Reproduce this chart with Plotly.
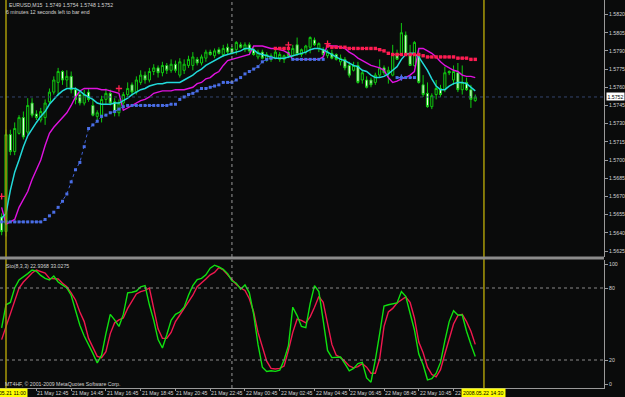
import plotly.graph_objects as go

# ---------------- data (M15 bars, bar 0 = 2008.05.21 11:00) ----------------
bar_index = list(range(-1, 109))

open_ = [1.5653, 1.5641, 1.5721, 1.5707, 1.5722, 1.5735, 1.5723, 1.5747, 1.5738, 1.5733,
         1.5735, 1.5748, 1.5756, 1.5764, 1.5773, 1.5766, 1.5769, 1.5758, 1.5754, 1.5747,
         1.5756, 1.5745, 1.5736, 1.5737, 1.5750, 1.5755, 1.5748, 1.5739, 1.5747, 1.5754,
         1.5762, 1.5756, 1.5764, 1.5770, 1.5766, 1.5773, 1.5776, 1.5772, 1.5778, 1.5774,
         1.5779, 1.5770, 1.5774, 1.5778, 1.5778, 1.5783, 1.5780, 1.5784, 1.5789, 1.5786,
         1.5791, 1.5787, 1.5793, 1.5792, 1.5791, 1.5795, 1.5791, 1.5795, 1.5791, 1.5785,
         1.5789, 1.5783, 1.5783, 1.5784, 1.5783, 1.5783, 1.5789, 1.5786, 1.5795, 1.5787,
         1.5789, 1.5793, 1.5799, 1.5792, 1.5791, 1.5786, 1.5788, 1.5787, 1.5781, 1.5783,
         1.5778, 1.5774, 1.5778, 1.5766, 1.5766, 1.5766, 1.5764, 1.5770, 1.5776, 1.5772,
         1.5770, 1.5788, 1.5787, 1.5803, 1.5788, 1.5778, 1.5787, 1.5762, 1.5755, 1.5744,
         1.5754, 1.5759, 1.5758, 1.5773, 1.5766, 1.5772, 1.5758, 1.5764, 1.5758, 1.5749]
high_ = [1.5656, 1.5725, 1.5725, 1.5731, 1.5737, 1.5740, 1.5751, 1.5751, 1.5741, 1.5743,
         1.5750, 1.5759, 1.5769, 1.5776, 1.5774, 1.5774, 1.5773, 1.5760, 1.5756, 1.5758,
         1.5759, 1.5750, 1.5741, 1.5753, 1.5759, 1.5758, 1.5751, 1.5750, 1.5756, 1.5764,
         1.5764, 1.5769, 1.5774, 1.5773, 1.5776, 1.5779, 1.5778, 1.5781, 1.5780, 1.5783,
         1.5782, 1.5784, 1.5783, 1.5786, 1.5789, 1.5785, 1.5787, 1.5791, 1.5791, 1.5792,
         1.5793, 1.5795, 1.5796, 1.5794, 1.5798, 1.5797, 1.5797, 1.5797, 1.5793, 1.5791,
         1.5791, 1.5789, 1.5788, 1.5792, 1.5789, 1.5787, 1.5791, 1.5795, 1.5801, 1.5792,
         1.5795, 1.5802, 1.5801, 1.5797, 1.5793, 1.5791, 1.5791, 1.5788, 1.5787, 1.5785,
         1.5781, 1.5781, 1.5781, 1.5774, 1.5769, 1.5768, 1.5772, 1.5783, 1.5778, 1.5777,
         1.5795, 1.5791, 1.5813, 1.5806, 1.5795, 1.5798, 1.5791, 1.5770, 1.5764, 1.5755,
         1.5766, 1.5762, 1.5777, 1.5774, 1.5778, 1.5780, 1.5778, 1.5768, 1.5762, 1.5754]
low_ = [1.5638, 1.5637, 1.5704, 1.5704, 1.5721, 1.5717, 1.5721, 1.5735, 1.5733, 1.5731,
        1.5729, 1.5746, 1.5754, 1.5753, 1.5762, 1.5760, 1.5755, 1.5746, 1.5745, 1.5745,
        1.5748, 1.5736, 1.5731, 1.5731, 1.5746, 1.5745, 1.5736, 1.5736, 1.5745, 1.5752,
        1.5753, 1.5754, 1.5762, 1.5763, 1.5764, 1.5770, 1.5768, 1.5769, 1.5771, 1.5772,
        1.5772, 1.5768, 1.5771, 1.5776, 1.5774, 1.5778, 1.5778, 1.5781, 1.5786, 1.5784,
        1.5787, 1.5785, 1.5787, 1.5787, 1.5787, 1.5792, 1.5789, 1.5788, 1.5786, 1.5783,
        1.5783, 1.5781, 1.5781, 1.5783, 1.5781, 1.5780, 1.5784, 1.5785, 1.5786, 1.5785,
        1.5787, 1.5788, 1.5794, 1.5789, 1.5786, 1.5784, 1.5783, 1.5782, 1.5778, 1.5774,
        1.5768, 1.5773, 1.5763, 1.5763, 1.5759, 1.5760, 1.5762, 1.5768, 1.5770, 1.5763,
        1.5769, 1.5783, 1.5786, 1.5786, 1.5778, 1.5777, 1.5763, 1.5752, 1.5743, 1.5742,
        1.5750, 1.5752, 1.5756, 1.5770, 1.5762, 1.5756, 1.5754, 1.5757, 1.5743, 1.5748]
close_ = [1.5641, 1.5721, 1.5707, 1.5726, 1.5735, 1.5719, 1.5745, 1.5737, 1.5735, 1.5740,
          1.5747, 1.5756, 1.5766, 1.5773, 1.5766, 1.5769, 1.5758, 1.5750, 1.5747, 1.5754,
          1.5750, 1.5737, 1.5739, 1.5750, 1.5755, 1.5747, 1.5739, 1.5747, 1.5754, 1.5759,
          1.5756, 1.5766, 1.5770, 1.5766, 1.5773, 1.5776, 1.5772, 1.5778, 1.5774, 1.5779,
          1.5774, 1.5781, 1.5779, 1.5783, 1.5785, 1.5780, 1.5785, 1.5789, 1.5787, 1.5790,
          1.5788, 1.5792, 1.5789, 1.5788, 1.5797, 1.5793, 1.5795, 1.5790, 1.5787, 1.5789,
          1.5784, 1.5787, 1.5786, 1.5789, 1.5787, 1.5786, 1.5786, 1.5792, 1.5787, 1.5791,
          1.5794, 1.5801, 1.5795, 1.5796, 1.5787, 1.5789, 1.5784, 1.5783, 1.5784, 1.5776,
          1.5770, 1.5778, 1.5764, 1.5772, 1.5760, 1.5762, 1.5770, 1.5776, 1.5772, 1.5774,
          1.5788, 1.5783, 1.5805, 1.5787, 1.5778, 1.5797, 1.5764, 1.5754, 1.5744, 1.5753,
          1.5759, 1.5754, 1.5772, 1.5772, 1.5773, 1.5758, 1.5764, 1.5758, 1.5750, 1.5752]

ma_fast = [1.5652, 1.5656, 1.5675, 1.5690, 1.5700, 1.5711, 1.5720, 1.5726, 1.5731, 1.5736,
           1.5740, 1.5746, 1.5750, 1.5754, 1.5757, 1.5759, 1.5759, 1.5759, 1.5757, 1.5754,
           1.5752, 1.5750, 1.5747, 1.5746, 1.5746, 1.5746, 1.5747, 1.5747, 1.5749, 1.5751,
           1.5754, 1.5756, 1.5758, 1.5759, 1.5761, 1.5762, 1.5763, 1.5763, 1.5764, 1.5764,
           1.5764, 1.5764, 1.5766, 1.5768, 1.5770, 1.5773, 1.5775, 1.5778, 1.5780, 1.5782,
           1.5784, 1.5786, 1.5787, 1.5788, 1.5789, 1.5790, 1.5792, 1.5792, 1.5791, 1.5788,
           1.5787, 1.5786, 1.5785, 1.5784, 1.5784, 1.5784, 1.5785, 1.5786, 1.5787, 1.5788,
           1.5789, 1.5791, 1.5792, 1.5792, 1.5791, 1.5789, 1.5787, 1.5785, 1.5783, 1.5782,
           1.5780, 1.5778, 1.5777, 1.5774, 1.5773, 1.5770, 1.5768, 1.5768, 1.5769, 1.5771,
           1.5774, 1.5777, 1.5783, 1.5787, 1.5788, 1.5788, 1.5785, 1.5780, 1.5774, 1.5767,
           1.5761, 1.5758, 1.5758, 1.5761, 1.5763, 1.5764, 1.5764, 1.5763, 1.5760, 1.5757]
ma_slow = [1.5661, 1.5647, 1.5649, 1.5651, 1.5661, 1.5668, 1.5674, 1.5684, 1.5692, 1.5700,
           1.5712, 1.5722, 1.5727, 1.5731, 1.5735, 1.5739, 1.5745, 1.5752, 1.5757, 1.5759,
           1.5759, 1.5759, 1.5759, 1.5758, 1.5758, 1.5757, 1.5756, 1.5755, 1.5741, 1.5743,
           1.5745, 1.5747, 1.5749, 1.5750, 1.5752, 1.5755, 1.5756, 1.5757, 1.5757, 1.5757,
           1.5758, 1.5758, 1.5758, 1.5759, 1.5760, 1.5763, 1.5764, 1.5767, 1.5768, 1.5771,
           1.5773, 1.5778, 1.5782, 1.5783, 1.5784, 1.5785, 1.5786, 1.5787, 1.5794, 1.5794,
           1.5794, 1.5793, 1.5792, 1.5792, 1.5791, 1.5790, 1.5788, 1.5783, 1.5783, 1.5783,
           1.5783, 1.5783, 1.5783, 1.5783, 1.5785, 1.5795, 1.5794, 1.5794, 1.5793, 1.5792,
           1.5789, 1.5787, 1.5784, 1.5782, 1.5780, 1.5778, 1.5777, 1.5776, 1.5774, 1.5768,
           1.5764, 1.5765, 1.5767, 1.5768, 1.5770, 1.5773, 1.5792, 1.5792, 1.5790, 1.5788,
           1.5785, 1.5781, 1.5778, 1.5776, 1.5774, 1.5773, 1.5770, 1.5769, 1.5769, 1.5768]

N = None
support_dots = ([1.5649] * 10 +
                [1.5651, 1.5654, 1.5657, 1.5661, 1.5666, 1.5672, 1.5682, 1.5692, 1.5698, 1.5711,
                 1.5726, 1.5729, 1.5732, 1.5736, 1.5737, 1.5739, 1.5740, 1.5742, 1.5744] +
                [1.5745] * 10 +
                [1.5746, 1.5746, 1.5750, 1.5752, 1.5754, 1.5755, 1.5757, 1.5759, 1.5759, 1.5760,
                 1.5761, 1.5762, 1.5764, 1.5764, 1.5764, 1.5766, 1.5768, 1.5771, 1.5773, 1.5775,
                 1.5777, 1.5781, 1.5783, 1.5784] +
                [N] * 4 + [1.5783] * 8 + [N] * 16 + [1.5768] * 5 + [N] * 14)
resist_dots = ([N] * 63 + [1.5792] * 4 + [N] * 8 +
               [1.5794, 1.5793, 1.5793, 1.5793, 1.5793, 1.5792, 1.5792, 1.5792, 1.5792, 1.5792,
                1.5792, 1.5792, 1.5791, 1.5790, 1.5788, 1.5787, 1.5787, 1.5787, 1.5787, 1.5787,
                1.5787, 1.5787, 1.5786, 1.5785, 1.5785, 1.5785, 1.5785, 1.5785, 1.5785, 1.5785,
                1.5784, 1.5784, 1.5784, 1.5783, 1.5783])

signal_bars = [-1, 26, 65, 74, 91]
signal_prices = [1.5670, 1.5759, 1.5795, 1.5796, 1.5768]
signal_kinds = ["sell", "sell", "sell", "sell", "buy"]

stoch_k = [46.7, 66, 68, 80, 86.7, 89, 92, 95, 94, 90.5, 88, 86.7, 90, 85, 82.5, 80, 74, 62, 49, 40,
           33, 25.5, 17.5, 24, 42, 58, 53.5, 48, 58, 76, 76.5, 77.5, 81, 82, 66, 53, 37, 30, 41, 53,
           58, 60, 64, 74, 82, 87, 88, 91, 96.5, 99, 97.5, 95.5, 92, 86, 84, 79, 82.5, 76, 58, 33,
           14, 10.5, 11, 10.5, 11.5, 20, 32, 64, 57, 48, 47, 67, 82, 77, 53, 28, 22, 22, 22.5, 17,
           11, 13, 17, 18, 5, 1.5, 20, 42, 65, 66, 67, 67.5, 77, 73, 59, 45, 25, 16, 3.5, 4.5,
           9, 18, 36, 52, 61, 57.5, 57.5, 44, 33, 22.9368]
stoch_d = [37, 48, 59, 70, 80, 85, 89, 92.5, 95, 93.5, 92.5, 88, 87.5, 87.5, 84, 81, 76, 70, 60, 52,
           38, 30, 23, 22, 27, 42, 51, 53.5, 55, 63, 69, 75, 77, 78, 80, 64, 46, 38, 38, 43,
           52, 57.5, 63, 67.5, 74, 81, 84, 87.5, 91, 93, 97, 95, 91, 87, 83, 80, 78, 71, 60, 43,
           30, 19, 13, 12.5, 13, 15, 28, 43, 54, 53, 51, 56, 64, 73, 68, 51, 33, 24, 22, 19,
           15, 13.5, 14.5, 17, 14, 9, 9, 21, 48, 60, 63, 67.5, 70, 72.5, 68, 55, 35, 26, 14, 8,
           6, 12, 25, 38, 50, 57, 58, 52, 44, 33.0275]

price_ticks = [1.5625, 1.5640, 1.5655, 1.5670, 1.5685, 1.5700, 1.5715, 1.5730,
               1.5745, 1.5760, 1.5775, 1.5790, 1.5805, 1.5820]
stoch_ticks = [0, 20, 80, 100]
stoch_levels = [20, 80]
time_tick_bars = [7, 15, 23, 31, 39, 47, 55, 63, 71, 79, 87, 95, 103]
time_tick_labels = ["21 May 12:45", "21 May 14:45", "21 May 16:45", "21 May 18:45",
                    "21 May 20:45", "21 May 22:45", "22 May 00:45", "22 May 02:45",
                    "22 May 04:45", "22 May 06:45", "22 May 08:45", "22 May 10:45",
                    "22 May 12:45"]
day_separator_bar = 52
vline_bars = [0, 110]
vline_labels = ["2008.05.21 11:00", "2008.05.22 14:30"]
header_text = "EURUSD,M15  1.5749 1.5754 1.5748 1.5752"
timer_text = "6 minutes 12 seconds left to bar end"
stoch_text = "Sto(8,3,3) 22.9368 33.0275"
copyright_text = "MT4HF, © 2001-2009 MetaQuotes Software Corp."

for arr in (open_, high_, low_, close_, ma_fast, ma_slow, support_dots, resist_dots, stoch_k, stoch_d):
    assert len(arr) == len(bar_index), len(arr)

# ---------------- geometry / style ----------------
W, H = 625, 397
PX_PER_BAR = 4.345
X0_PX = 6.0
AXIS_PX = 604
BG = "#0a0b0b"
AX = "#9a9a9a"
TXT = "#d4d4d4"
FONT = "Liberation Sans, Arial, sans-serif"
FS = 5.2


def py(p):
    return 1 - p / H


x_lo = -X0_PX / PX_PER_BAR
x_hi = x_lo + AXIS_PX / PX_PER_BAR

# main price scale: 1.5820 at y=14.5px, 1.5625 at y=251px
ppx = (1.5820 - 1.5625) / (251 - 14.5)
main_top_px, main_bot_px = 0, 257
y_hi = 1.5820 + (14.5 - main_top_px) * ppx
y_lo = 1.5820 - (main_bot_px - 14.5) * ppx
# stochastic: 100 at 264px, 0 at 384px
sub_top_px, sub_bot_px = 260, 388
s_hi = (384 - sub_top_px) / 1.2
s_lo = (384 - sub_bot_px) / 1.2

fig = go.Figure()

fig.add_trace(go.Candlestick(
    x=bar_index, open=open_, high=high_, low=low_, close=close_,
    increasing=dict(line=dict(color="#10c810", width=1), fillcolor=BG),
    decreasing=dict(line=dict(color="#10c810", width=1), fillcolor="#eefee8"),
    whiskerwidth=0, xaxis="x", yaxis="y", hoverinfo="skip"))

fig.add_trace(go.Scatter(x=bar_index, y=ma_slow, mode="lines",
                         line=dict(color="#e012e0", width=1.4), xaxis="x", yaxis="y"))
fig.add_trace(go.Scatter(x=bar_index, y=ma_fast, mode="lines",
                         line=dict(color="#22dada", width=1.5), xaxis="x", yaxis="y"))
fig.add_trace(go.Scatter(x=bar_index, y=support_dots, mode="lines+markers",
                         line=dict(color="#3f62d8", width=1, dash="dot"),
                         marker=dict(symbol="square", size=3, color="#4a6ee6"),
                         connectgaps=False, xaxis="x", yaxis="y"))
fig.add_trace(go.Scatter(x=bar_index, y=resist_dots, mode="lines+markers",
                         line=dict(color="#f01850", width=1, dash="dot"),
                         marker=dict(symbol="square", size=3.4, color="#ff1c52"),
                         connectgaps=False, xaxis="x", yaxis="y"))
fig.add_trace(go.Scatter(x=signal_bars, y=signal_prices, mode="markers",
                         marker=dict(symbol="cross-thin", size=4.5,
                                     line=dict(width=1.3,
                                               color=["#ff2050" if k == "sell" else "#4a6ee6"
                                                      for k in signal_kinds])),
                         xaxis="x", yaxis="y"))

fig.add_trace(go.Scatter(x=bar_index, y=stoch_d, mode="lines",
                         line=dict(color="#f0184e", width=1.4), xaxis="x", yaxis="y2"))
fig.add_trace(go.Scatter(x=bar_index, y=stoch_k, mode="lines",
                         line=dict(color="#10e010", width=1.4), xaxis="x", yaxis="y2"))

shapes = []
# bid line
shapes.append(dict(type="line", xref="paper", x0=0, x1=AXIS_PX / W, yref="y",
                   y0=close_[-1], y1=close_[-1], line=dict(color="#33456e", width=1, dash="dot")))
# day separator
shapes.append(dict(type="line", xref="x", x0=day_separator_bar, x1=day_separator_bar,
                   yref="paper", y0=py(main_bot_px), y1=1,
                   line=dict(color="#9a9a9a", width=1, dash="dot")))
shapes.append(dict(type="line", xref="x", x0=day_separator_bar, x1=day_separator_bar,
                   yref="paper", y0=py(sub_bot_px), y1=py(sub_top_px),
                   line=dict(color="#9a9a9a", width=1, dash="dot")))
# stochastic levels
for lv in stoch_levels:
    shapes.append(dict(type="line", xref="paper", x0=0, x1=AXIS_PX / W, yref="y2",
                       y0=lv, y1=lv, line=dict(color="#8a8a8a", width=1, dash="dot")))
# yellow vertical lines
for vb in vline_bars:
    shapes.append(dict(type="line", xref="x", x0=vb, x1=vb, yref="paper",
                       y0=py(sub_bot_px), y1=1, line=dict(color="#a89a08", width=1.5)))
# window separator
shapes.append(dict(type="rect", xref="paper", x0=0, x1=AXIS_PX / W, yref="paper",
                   y0=py(259.5), y1=py(256.5), fillcolor="#8c8c8c", line=dict(width=0)))

ann = []
small = dict(size=FS, color=TXT, family=FONT)
for b, t in zip(time_tick_bars, time_tick_labels):
    ann.append(dict(x=b, xref="x", y=py(392.6), yref="paper", text=t, showarrow=False,
                    xanchor="left", yanchor="middle", xshift=-1, font=small))
for b, t in zip(vline_bars, vline_labels):
    ann.append(dict(x=b, xref="x", y=py(392.6), yref="paper", text=t, showarrow=False,
                    xanchor="center", yanchor="middle", bgcolor="#ffff00", borderpad=1,
                    font=dict(size=FS, color="#000000", family=FONT)))
ann.append(dict(x=(AXIS_PX + 1.5) / W, xref="paper", y=close_[-1], yref="y",
                text=f"{close_[-1]:.4f}", showarrow=False, xanchor="left", yanchor="middle",
                bgcolor="#ffffff", borderpad=0.5, font=dict(size=FS, color="#000000", family=FONT)))
ann.append(dict(x=7 / W, xref="paper", y=py(5.5), yref="paper", text=header_text,
                showarrow=False, xanchor="left", yanchor="middle", font=small))
ann.append(dict(x=3.5 / W, xref="paper", y=py(11.5), yref="paper", text=timer_text,
                showarrow=False, xanchor="left", yanchor="middle", font=small))
ann.append(dict(x=3.5 / W, xref="paper", y=py(265.5), yref="paper", text=stoch_text,
                showarrow=False, xanchor="left", yanchor="middle", font=small))
ann.append(dict(x=2.5 / W, xref="paper", y=py(383.5), yref="paper", text=copyright_text,
                showarrow=False, xanchor="left", yanchor="middle", font=small))

fig.update_layout(
    width=W, height=H, margin=dict(l=0, r=0, t=0, b=0, pad=0),
    paper_bgcolor=BG, plot_bgcolor=BG, showlegend=False, hovermode=False,
    boxgap=0.3,
    xaxis=dict(domain=[0, AXIS_PX / W], range=[x_lo, x_hi], anchor="y2",
               showgrid=False, zeroline=False, rangeslider=dict(visible=False),
               showline=True, linecolor=AX, linewidth=1,
               tickvals=time_tick_bars, ticks="outside", ticklen=2, tickcolor=AX,
               showticklabels=False),
    yaxis=dict(domain=[py(main_bot_px), 1], range=[y_lo, y_hi], side="right", anchor="x",
               showgrid=False, zeroline=False, showline=True, linecolor=AX, linewidth=1,
               tickvals=price_ticks, ticktext=[f"{p:.4f}" for p in price_ticks],
               ticks="outside", ticklen=3, tickcolor=AX, tickfont=small),
    yaxis2=dict(domain=[py(sub_bot_px), py(sub_top_px)], range=[s_lo, s_hi], side="right",
                anchor="x", showgrid=False, zeroline=False, showline=True, linecolor=AX,
                linewidth=1, tickvals=stoch_ticks, ticktext=[str(t) for t in stoch_ticks],
                ticks="outside", ticklen=3, tickcolor=AX, tickfont=small),
    shapes=shapes, annotations=ann,
)

fig.write_html("out.html")
